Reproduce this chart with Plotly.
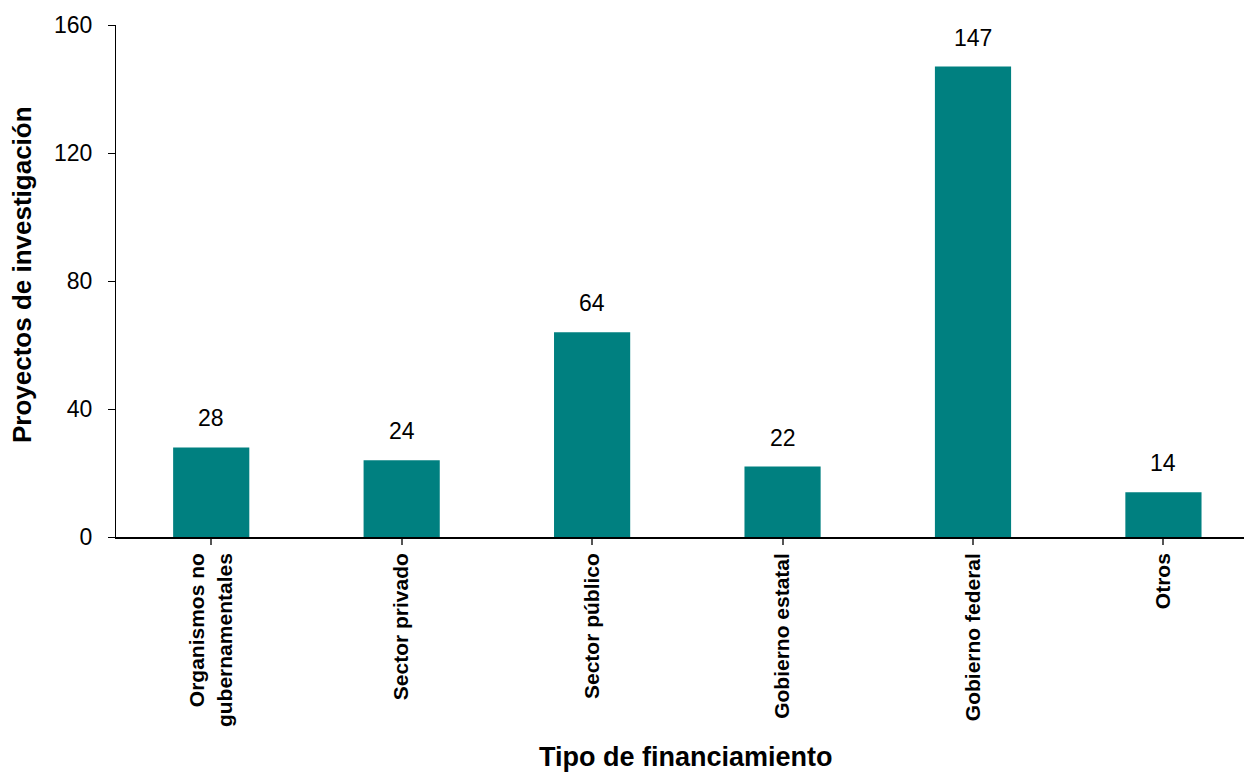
import plotly.graph_objects as go

categories = ["Organismos no<br>gubernamentales", "Sector privado", "Sector público",
              "Gobierno estatal", "Gobierno federal", "Otros"]
values = [28, 24, 64, 22, 147, 14]
y_ticks = [0, 40, 80, 120, 160]

FONT = "Liberation Sans, Arial, sans-serif"

fig = go.Figure()
fig.add_trace(go.Bar(
    x=list(range(len(categories))), y=values,
    marker=dict(color="#008080", line=dict(width=0)),
    width=0.40,
    hoverinfo="skip",
))

for i, v in enumerate(values):
    fig.add_annotation(x=i, y=v, text=str(v), showarrow=False,
                       yanchor="bottom", yshift=14,
                       font=dict(family=FONT, size=23, color="black"))

fig.add_annotation(text="<b>Tipo de financiamiento</b>", xref="paper", yref="paper",
                   x=0.5018, y=-0.4297, xanchor="center", yanchor="middle",
                   showarrow=False, font=dict(family=FONT, size=27, color="black"))
fig.add_annotation(text="<b>Proyectos de investigación</b>", xref="paper", yref="paper",
                   x=-0.0827, y=0.5117, xanchor="center", yanchor="middle", textangle=-90,
                   showarrow=False, font=dict(family=FONT, size=26, color="black"))

fig.update_layout(
    width=1244, height=764,
    margin=dict(l=108, r=0, t=17, b=235),
    paper_bgcolor="white", plot_bgcolor="white",
    showlegend=False,
    font=dict(family=FONT, color="black"),
    bargap=0.6,
)
fig.update_xaxes(
    automargin=False,
    range=[-0.5, 5.465],
    tickmode="array", tickvals=list(range(len(categories))), ticktext=categories,
    tickangle=-90,
    tickfont=dict(family=FONT, size=21, color="black", weight="bold"),
    showline=True, linecolor="black", linewidth=1.5,
    ticks="outside", ticklen=6, tickcolor="#555", tickwidth=1.5,
    tickson="boundaries",
    showgrid=False, zeroline=False,
)
fig.update_yaxes(
    automargin=False,
    range=[0, 160],
    tickmode="array", tickvals=y_ticks,
    tickfont=dict(family=FONT, size=23, color="black"),
    ticklabelstandoff=11,
    showline=True, linecolor="black", linewidth=1,
    ticks="outside", ticklen=7, tickcolor="black",
    showgrid=False, zeroline=False,
)

fig.write_html("out.html")
